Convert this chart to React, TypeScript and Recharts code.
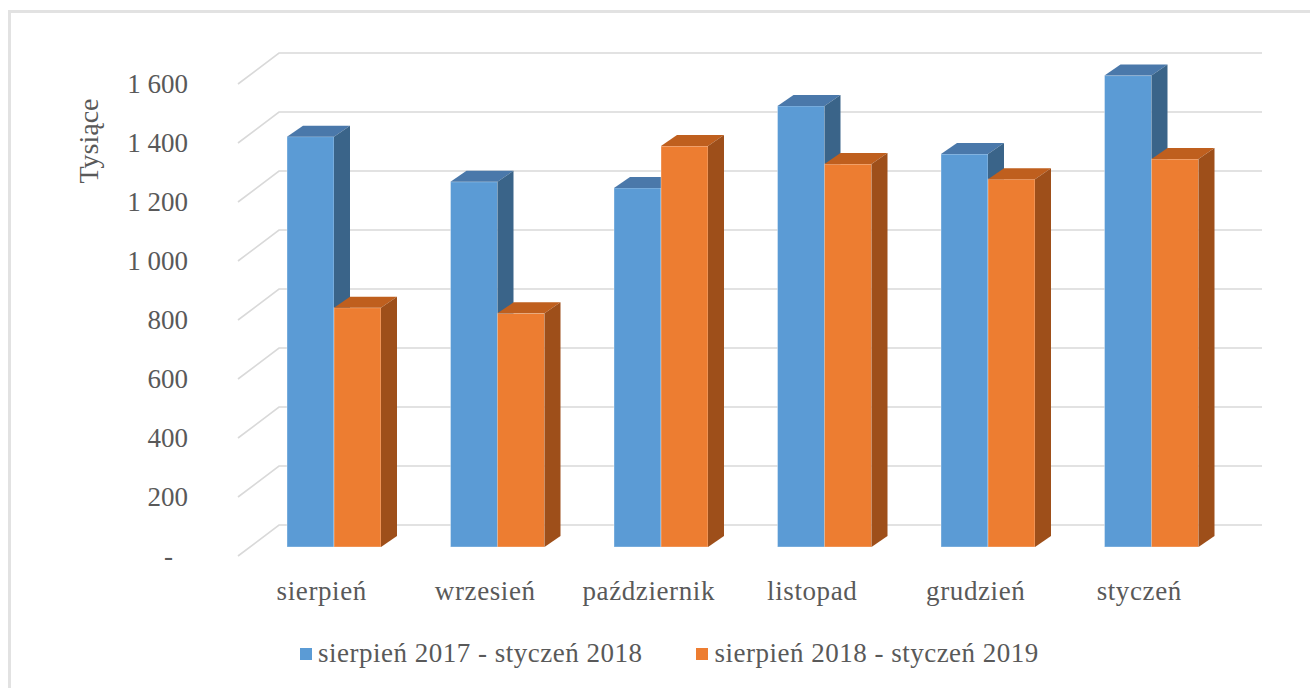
import { Bar, BarChart, CartesianGrid, XAxis, YAxis } from "recharts";

const months = ["sierpień", "wrzesień", "październik", "listopad", "grudzień", "styczeń"];
const prevSeason = [1391, 1238, 1217, 1495, 1332, 1598];
const currSeason = [811, 792, 1359, 1298, 1247, 1315];
const seriesNames = ["sierpień 2017 - styczeń 2018", "sierpień 2018 - styczeń 2019"];
const yTicks = [0, 200, 400, 600, 800, 1000, 1200, 1400, 1600];

const data = months.map((m, i) => ({ month: m, prev: prevSeason[i], curr: currSeason[i] }));

const FONT = "'Liberation Serif', 'Times New Roman', serif";
const TEXT = "#595959";
const DX = 16;
const DY = 11;

const box = (front: string, top: string, side: string) => (props: any) => {
  const { x, y, width, height } = props;
  if (height == null || height <= 0) return <g />;
  return (
    <g>
      <rect x={x} y={y} width={width} height={height} fill={front} stroke="#ffffff" strokeOpacity={0.35} strokeWidth={1} />
      <polygon points={`${x},${y} ${x + DX},${y - DY} ${x + width + DX},${y - DY} ${x + width},${y}`} fill={top} />
      <polygon
        points={`${x + width},${y} ${x + width + DX},${y - DY} ${x + width + DX},${y + height - DY} ${x + width},${y + height}`}
        fill={side}
      />
    </g>
  );
};

const fmt = (v: number) => (v === 0 ? "-" : v.toLocaleString("en-US").replace(/,/g, " "));

const YTick = (props: any) => {
  const { x, y, payload } = props;
  const zero = payload.value === 0;
  return (
    <text
      x={x - 64 - (zero ? 15 : 0)}
      y={y + 9}
      textAnchor="end"
      dominantBaseline="central"
      fontFamily={FONT}
      fontSize={27}
      fill={TEXT}
    >
      {fmt(payload.value)}
    </text>
  );
};

const XTick = (props: any) => {
  const { x, y, payload } = props;
  return (
    <text
      x={x - 12}
      y={y + 44}
      textAnchor="middle"
      dominantBaseline="central"
      fontFamily={FONT}
      fontSize={27}
      letterSpacing={0.6}
      fill={TEXT}
    >
      {payload.value}
    </text>
  );
};

const gridLine = (props: any) => {
  const { y1, key } = props;
  return (
    <path
      key={key}
      d={`M238 ${y1 + 9} L279 ${y1 - 22} L1262 ${y1 - 22}`}
      fill="none"
      stroke="#d9d9d9"
      strokeWidth={1.6}
    />
  );
};

const colors = ["#5b9bd5", "#ed7d31"];

export default function App() {
  return (
    <div style={{ position: "absolute", left: 0, top: 0, width: 1310, height: 688, background: "#fff", overflow: "hidden" }}>
      <div
        style={{
          position: "absolute",
          left: 8,
          top: 10,
          width: 1320,
          height: 700,
          borderLeft: "3px solid #e2e2e2",
          borderTop: "3px solid #e2e2e2",
        }}
      />
      <BarChart
        width={1310}
        height={688}
        data={data}
        margin={{ top: 75, right: 77, bottom: 101, left: 0 }}
        barSize={47}
        barGap={0}
        style={{ position: "absolute", left: 0, top: 0 }}
      >
        <CartesianGrid horizontal={gridLine} vertical={false} />
        <XAxis dataKey="month" height={40} axisLine={false} tickLine={false} tickSize={0} tickMargin={0} tick={<XTick />} interval={0} />
        <YAxis
          width={252}
          domain={[0, 1600]}
          ticks={yTicks}
          axisLine={false}
          tickLine={false}
          tickSize={0}
          tickMargin={0}
          tick={<YTick />}
          interval={0}
        />
        <Bar dataKey="prev" name={seriesNames[0]} isAnimationActive={false} shape={box("#5b9bd5", "#4a78aa", "#3a6489")} />
        <Bar dataKey="curr" name={seriesNames[1]} isAnimationActive={false} shape={box("#ed7d31", "#bf5f1e", "#9e4f1a")} />
      </BarChart>
      <div
        style={{
          position: "absolute",
          left: 89,
          top: 141,
          transform: "translate(-50%, -50%) rotate(-90deg)",
          fontFamily: FONT,
          fontSize: 28,
          color: TEXT,
          whiteSpace: "nowrap",
        }}
      >
        Tysiące
      </div>
      <div
        style={{
          position: "absolute",
          left: 300,
          top: 638,
          display: "flex",
          alignItems: "center",
          fontFamily: FONT,
          fontSize: 27,
          letterSpacing: 0.5,
          color: TEXT,
          whiteSpace: "nowrap",
        }}
      >
        {seriesNames.map((n, i) => (
          <div key={n} style={{ display: "flex", alignItems: "center", marginRight: 54 }}>
            <span style={{ display: "inline-block", width: 12, height: 12, background: colors[i], marginRight: 6 }} />
            <span>{n}</span>
          </div>
        ))}
      </div>
    </div>
  );
}
